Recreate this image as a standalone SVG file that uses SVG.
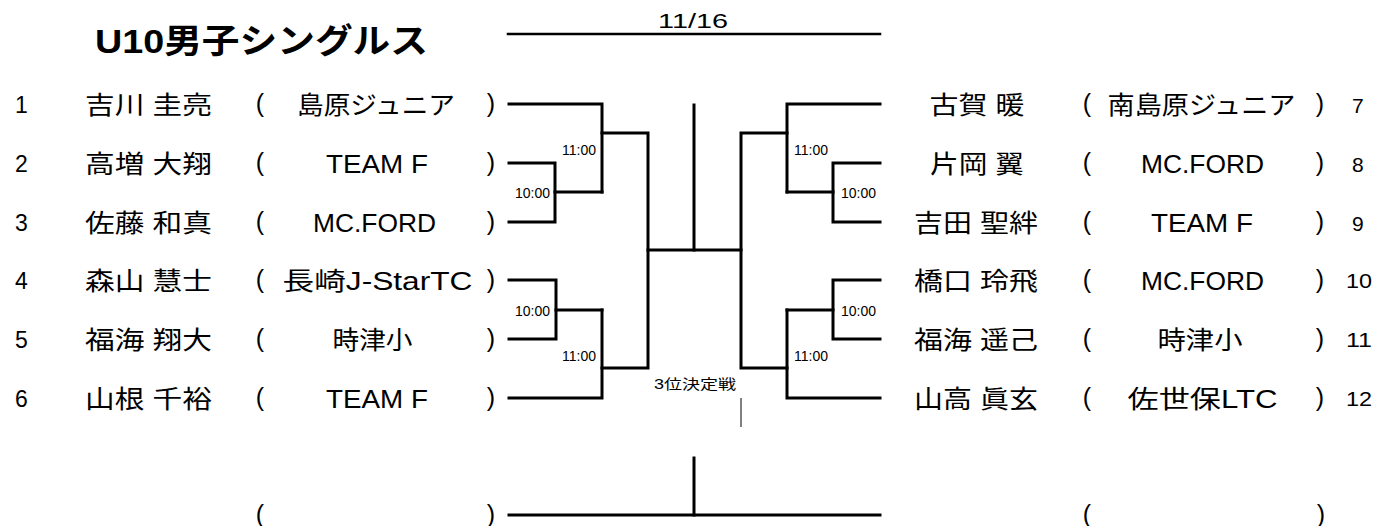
<svg xmlns="http://www.w3.org/2000/svg" width="1375" height="526" viewBox="0 0 1375 526">
<style>
text{font-family:"Liberation Sans","Noto Sans CJK JP",sans-serif;fill:#000}
.nm{font-size:25px;text-anchor:middle}
.cl{font-size:25px;text-anchor:middle}
.pr{font-size:25px;text-anchor:middle}
.nl{font-size:23px}
.nr{font-size:21px}
.ns{font-size:21px}
.tm{font-size:14px}
.ln{fill:none;stroke:#000;stroke-width:3;stroke-linecap:square;stroke-linejoin:miter}
.thin{fill:none;stroke:#000;stroke-width:1}
</style>
<rect width="1375" height="526" fill="#fff"/>
<g id="title"><text x="95" y="53" font-size="34" font-weight="bold" textLength="333" lengthAdjust="spacingAndGlyphs">U10男子シングルス</text></g>
<g id="date"><text x="693" y="28" font-size="20" text-anchor="middle" textLength="70" lengthAdjust="spacingAndGlyphs">11/16</text></g>
<g id="connectors">
<path class="ln" d="M508,34 H880" style="stroke-width:2.5"/>
<path class="ln" d="M509,104 H602 V192"/>
<path class="ln" d="M509,163 H555 V222 H509"/>
<path class="ln" d="M555,192 H602"/>
<path class="ln" d="M509,280 H556 V339 H509"/>
<path class="ln" d="M556,310 H602"/>
<path class="ln" d="M509,398 H602 V310"/>
<path class="ln" d="M602,133 H648 V368 H602"/>
<path class="ln" d="M648,250 H741"/>
<path class="ln" d="M694,105 V250"/>
<path class="ln" d="M880,104 H787 V192"/>
<path class="ln" d="M880,163 H833 V222 H880"/>
<path class="ln" d="M833,192 H787"/>
<path class="ln" d="M880,280 H833 V339 H880"/>
<path class="ln" d="M833,310 H787"/>
<path class="ln" d="M880,398 H787 V310"/>
<path class="ln" d="M787,133 H741 V368 H787"/>
<path class="thin" d="M741,398 V427"/>
<path class="ln" d="M509,515 H880"/>
<path class="ln" d="M694,458 V515"/>
</g>
<g id="times">
<text class="tm" x="562" y="155" textLength="34" lengthAdjust="spacingAndGlyphs">11:00</text>
<text class="tm" x="515" y="197.5" textLength="35" lengthAdjust="spacingAndGlyphs">10:00</text>
<text class="tm" x="794" y="155" textLength="34" lengthAdjust="spacingAndGlyphs">11:00</text>
<text class="tm" x="841" y="197.5" textLength="35" lengthAdjust="spacingAndGlyphs">10:00</text>
<text class="tm" x="515" y="315.5" textLength="35" lengthAdjust="spacingAndGlyphs">10:00</text>
<text class="tm" x="562" y="360.5" textLength="34" lengthAdjust="spacingAndGlyphs">11:00</text>
<text class="tm" x="841" y="315.5" textLength="35" lengthAdjust="spacingAndGlyphs">10:00</text>
<text class="tm" x="794" y="360.5" textLength="34" lengthAdjust="spacingAndGlyphs">11:00</text>
</g>
<g id="third-place"><text x="695" y="389" font-size="14" text-anchor="middle" textLength="82" lengthAdjust="spacingAndGlyphs">3位決定戦</text></g>
<g id="p1"><text class="nl" x="15" y="113">1</text><text class="nm" x="148.5" y="114" textLength="127" lengthAdjust="spacingAndGlyphs">吉川 圭亮</text><text class="pr" x="260" y="111.5">(</text><text class="cl" x="376" y="114" textLength="158" lengthAdjust="spacingAndGlyphs">島原ジュニア</text><text class="pr" x="491" y="111.5">)</text></g>
<g id="p2"><text class="nl" x="15" y="172">2</text><text class="nm" x="148.5" y="173" textLength="127" lengthAdjust="spacingAndGlyphs">高増 大翔</text><text class="pr" x="260" y="170.5">(</text><text class="cl" x="377" y="173" textLength="102" lengthAdjust="spacingAndGlyphs">TEAM F</text><text class="pr" x="491" y="170.5">)</text></g>
<g id="p3"><text class="nl" x="15" y="231">3</text><text class="nm" x="148.5" y="232" textLength="127" lengthAdjust="spacingAndGlyphs">佐藤 和真</text><text class="pr" x="260" y="229.5">(</text><text class="cl" x="374.5" y="232" textLength="123" lengthAdjust="spacingAndGlyphs">MC.FORD</text><text class="pr" x="491" y="229.5">)</text></g>
<g id="p4"><text class="nl" x="15" y="289">4</text><text class="nm" x="148.5" y="290" textLength="127" lengthAdjust="spacingAndGlyphs">森山 慧士</text><text class="pr" x="260" y="287.5">(</text><text class="cl" x="377.5" y="290" textLength="190" lengthAdjust="spacingAndGlyphs">長崎J-StarTC</text><text class="pr" x="491" y="287.5">)</text></g>
<g id="p5"><text class="nl" x="15" y="348">5</text><text class="nm" x="148.5" y="349" textLength="127" lengthAdjust="spacingAndGlyphs">福海 翔大</text><text class="pr" x="260" y="346.5">(</text><text class="cl" x="372.5" y="349" textLength="80" lengthAdjust="spacingAndGlyphs">時津小</text><text class="pr" x="491" y="346.5">)</text></g>
<g id="p6"><text class="nl" x="15" y="407">6</text><text class="nm" x="148.5" y="408" textLength="127" lengthAdjust="spacingAndGlyphs">山根 千裕</text><text class="pr" x="260" y="405.5">(</text><text class="cl" x="377" y="408" textLength="102" lengthAdjust="spacingAndGlyphs">TEAM F</text><text class="pr" x="491" y="405.5">)</text></g>
<g id="p7"><text class="nm" x="977" y="114" textLength="95" lengthAdjust="spacingAndGlyphs">古賀 暖</text><text class="pr" x="1087" y="111.5">(</text><text class="cl" x="1201.5" y="114" textLength="188" lengthAdjust="spacingAndGlyphs">南島原ジュニア</text><text class="pr" x="1320" y="111.5">)</text><text class="nr" x="1352" y="113">7</text></g>
<g id="p8"><text class="nm" x="977" y="173" textLength="94" lengthAdjust="spacingAndGlyphs">片岡 翼</text><text class="pr" x="1087" y="170.5">(</text><text class="cl" x="1202.5" y="173" textLength="123" lengthAdjust="spacingAndGlyphs">MC.FORD</text><text class="pr" x="1320" y="170.5">)</text><text class="nr" x="1352" y="172">8</text></g>
<g id="p9"><text class="nm" x="976" y="232" textLength="124" lengthAdjust="spacingAndGlyphs">吉田 聖絆</text><text class="pr" x="1087" y="229.5">(</text><text class="cl" x="1202" y="232" textLength="102" lengthAdjust="spacingAndGlyphs">TEAM F</text><text class="pr" x="1320" y="229.5">)</text><text class="nr" x="1352" y="231">9</text></g>
<g id="p10"><text class="nm" x="976" y="290" textLength="124" lengthAdjust="spacingAndGlyphs">橋口 玲飛</text><text class="pr" x="1087" y="287.5">(</text><text class="cl" x="1202.5" y="290" textLength="123" lengthAdjust="spacingAndGlyphs">MC.FORD</text><text class="pr" x="1320" y="287.5">)</text><text class="ns" x="1346" y="288" textLength="26" lengthAdjust="spacingAndGlyphs">10</text></g>
<g id="p11"><text class="nm" x="976" y="349" textLength="124" lengthAdjust="spacingAndGlyphs">福海 遥己</text><text class="pr" x="1087" y="346.5">(</text><text class="cl" x="1200" y="349" textLength="85" lengthAdjust="spacingAndGlyphs">時津小</text><text class="pr" x="1320" y="346.5">)</text><text class="ns" x="1346" y="347" textLength="26" lengthAdjust="spacingAndGlyphs">11</text></g>
<g id="p12"><text class="nm" x="976" y="408" textLength="124" lengthAdjust="spacingAndGlyphs">山高 眞玄</text><text class="pr" x="1087" y="405.5">(</text><text class="cl" x="1202.5" y="408" textLength="150" lengthAdjust="spacingAndGlyphs">佐世保LTC</text><text class="pr" x="1320" y="405.5">)</text><text class="ns" x="1346" y="406" textLength="26" lengthAdjust="spacingAndGlyphs">12</text></g>
<g id="bottom-left"><text class="pr" x="260" y="522.5">(</text><text class="pr" x="491" y="522.5">)</text></g>
<g id="bottom-right"><text class="pr" x="1087" y="522.5">(</text><text class="pr" x="1321" y="522.5">)</text></g>
</svg>
